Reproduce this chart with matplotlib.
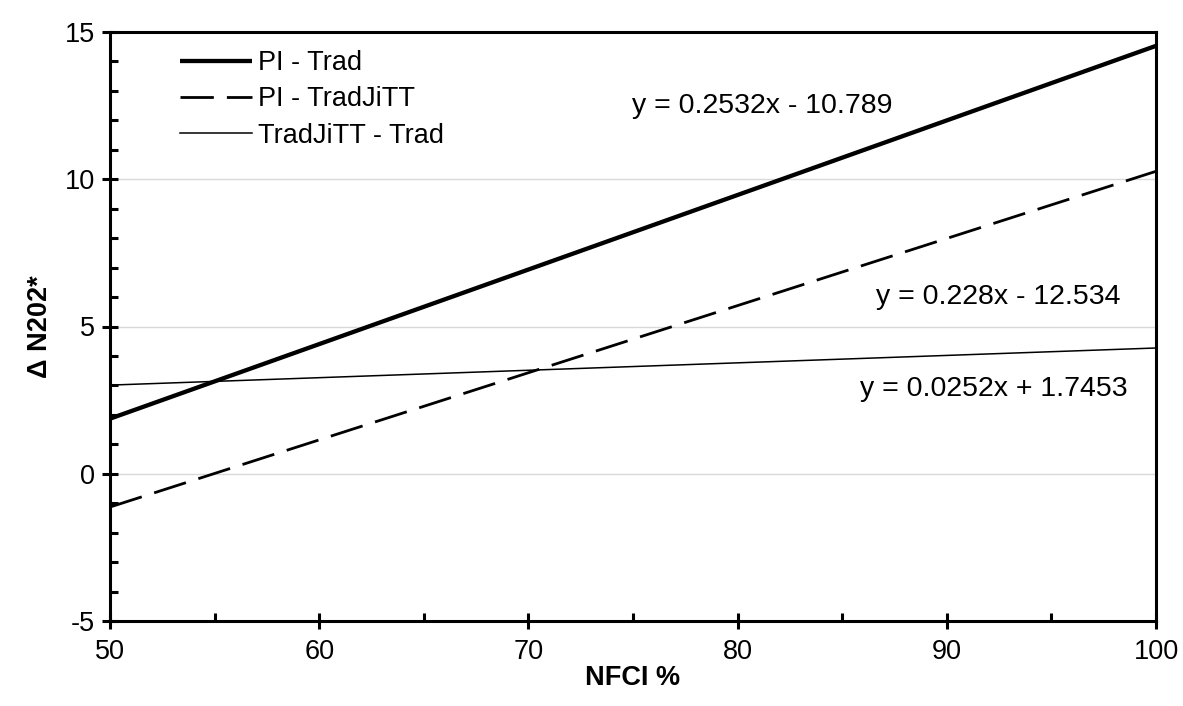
import numpy as np
import matplotlib
matplotlib.use("Agg")
import matplotlib.pyplot as plt
from matplotlib.ticker import MultipleLocator

plt.rcParams['font.family'] = ['Liberation Sans', 'DejaVu Sans']
plt.rcParams['axes.unicode_minus'] = False

# ---- data (trend line end points) ----
x_ends = [50, 100]
pi_trad = [1.87, 14.53]
pi_tradjitt = [-1.13, 10.27]
tradjitt_trad = [3.01, 4.27]

labels = ["PI - Trad", "PI - TradJiTT", "TradJiTT - Trad"]
equations = ["y = 0.2532x - 10.789", "y = 0.228x - 12.534", "y = 0.0252x + 1.7453"]

W, H = 1183, 706
fig = plt.figure(figsize=(W/100, H/100), dpi=100)
ax = fig.add_axes([110/W, 1 - 621/H, (1156-110)/W, (621-32)/H])

ax.plot(x_ends, pi_trad, color="black", lw=3.1, label=labels[0], solid_capstyle="butt")
ax.plot(x_ends, pi_tradjitt, color="black", lw=2.0, dashes=(12, 4.7), label=labels[1])
ax.plot(x_ends, tradjitt_trad, color="black", lw=1.1, label=labels[2])

ax.set_xlim(50, 100)
ax.set_ylim(-5, 15)
ax.xaxis.set_major_locator(MultipleLocator(10))
ax.xaxis.set_minor_locator(MultipleLocator(5))
ax.yaxis.set_major_locator(MultipleLocator(5))
ax.yaxis.set_minor_locator(MultipleLocator(1))

for y in [0, 5, 10]:
    ax.axhline(y, color="#d9d9d9", lw=1.0, zorder=0)

for s in ax.spines.values():
    s.set_linewidth(2.2)

fs = 19.5
ax.tick_params(which="major", direction="inout", length=12, width=2.2, labelsize=fs)
ax.tick_params(which="minor", direction="in", length=6, width=2.2)
ax.tick_params(axis="x", which="major", pad=7)
ax.tick_params(axis="y", which="major", pad=5)

ax.set_xlabel("NFCI %", fontsize=fs, fontweight="bold", labelpad=0)
ax.set_ylabel("Δ N202*", fontsize=fs, fontweight="bold", labelpad=8)

# equation labels, placed in pixel coords (top-left origin), baseline aligned
def px(x, y):
    return x/W, 1 - y/H

ax.text(*px(632, 113), equations[0], transform=fig.transFigure, fontsize=20.5, va="baseline", ha="left")
ax.text(*px(1121, 304), equations[1], transform=fig.transFigure, fontsize=20.5, va="baseline", ha="right")
ax.text(*px(1128, 396), equations[2], transform=fig.transFigure, fontsize=20.5, va="baseline", ha="right")

leg = ax.legend(loc="upper left", bbox_to_anchor=((180-110)/1046, (621-50)/589), frameon=False,
                fontsize=fs, handlelength=2.66, handletextpad=0.22, labelspacing=0.38,
                borderpad=0, borderaxespad=0)

fig.savefig("out.png", dpi=100)
